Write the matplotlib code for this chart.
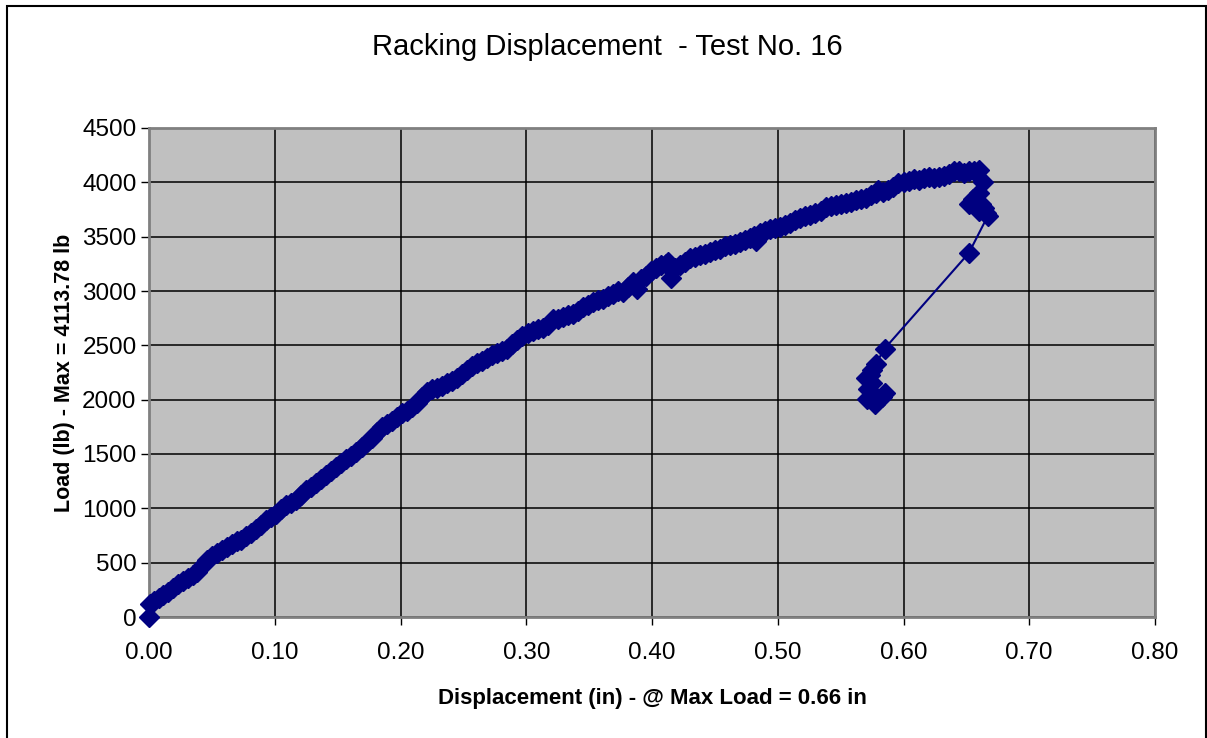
import matplotlib
matplotlib.use("Agg")
import matplotlib.pyplot as plt
from matplotlib.patches import Rectangle

plt.rcParams['font.family'] = ['Liberation Sans', 'DejaVu Sans']

# ---- data: displacement (in) vs load (lb) ----
disp = [0.000, 0.001, 0.004, 0.008, 0.011, 0.015, 0.019, 0.023, 0.027, 0.031,
        0.035, 0.038, 0.042, 0.046, 0.050, 0.054, 0.058, 0.062, 0.066, 0.070,
        0.073, 0.077, 0.081, 0.085, 0.089, 0.093, 0.097, 0.101, 0.105, 0.109,
        0.113, 0.117, 0.121, 0.125, 0.129, 0.133, 0.137, 0.141, 0.145, 0.149,
        0.153, 0.157, 0.161, 0.165, 0.169, 0.173, 0.177, 0.181, 0.185, 0.189,
        0.193, 0.197, 0.201, 0.205, 0.209, 0.213, 0.217, 0.221, 0.225, 0.229,
        0.233, 0.237, 0.241, 0.245, 0.249, 0.253, 0.257, 0.261, 0.265, 0.269,
        0.273, 0.277, 0.281, 0.285, 0.289, 0.293, 0.297, 0.301, 0.305, 0.309,
        0.313, 0.317, 0.321, 0.325, 0.329, 0.333, 0.337, 0.341, 0.345, 0.349,
        0.353, 0.357, 0.361, 0.365, 0.369, 0.373, 0.377, 0.381, 0.385, 0.388,
        0.391, 0.395, 0.399, 0.403, 0.407, 0.411, 0.413, 0.415, 0.418, 0.422,
        0.426, 0.430, 0.434, 0.438, 0.442, 0.446, 0.450, 0.454, 0.458, 0.462,
        0.466, 0.470, 0.474, 0.478, 0.481, 0.483, 0.486, 0.490, 0.494, 0.498,
        0.502, 0.506, 0.510, 0.514, 0.518, 0.522, 0.526, 0.530, 0.534, 0.538,
        0.542, 0.546, 0.550, 0.554, 0.558, 0.562, 0.566, 0.570, 0.574, 0.578,
        0.580, 0.584, 0.588, 0.592, 0.596, 0.600, 0.604, 0.608, 0.612, 0.616,
        0.620, 0.624, 0.628, 0.632, 0.636, 0.640, 0.644, 0.648, 0.652, 0.656,
        0.660, 0.663, 0.660, 0.656, 0.652, 0.655, 0.658, 0.662, 0.660, 0.664,
        0.666, 0.667, 0.652,
        0.585, 0.578, 0.575, 0.573, 0.570, 0.575, 0.572, 0.585, 0.583, 0.571,
        0.577, 0.580]
load = [0, 120, 150, 175, 200, 230, 265, 300, 335, 360,
        385, 415, 470, 520, 560, 590, 620, 645, 670, 695,
        710, 745, 775, 810, 850, 890, 920, 950, 990, 1030,
        1050, 1075, 1120, 1170, 1200, 1230, 1270, 1310, 1340, 1380,
        1420, 1450, 1480, 1520, 1560, 1610, 1650, 1700, 1750, 1780,
        1805, 1840, 1875, 1900, 1930, 1970, 2020, 2070, 2100, 2110,
        2130, 2150, 2170, 2200, 2240, 2270, 2310, 2340, 2360, 2380,
        2410, 2430, 2450, 2470, 2510, 2550, 2585, 2610, 2630, 2650,
        2660, 2690, 2740, 2740, 2760, 2780, 2790, 2820, 2850, 2870,
        2900, 2920, 2930, 2950, 2975, 3000, 2990, 3040, 3080, 3020,
        3110, 3140, 3180, 3210, 3240, 3250, 3270, 3120, 3210, 3240,
        3270, 3300, 3310, 3330, 3340, 3360, 3380, 3390, 3410, 3420,
        3430, 3450, 3470, 3490, 3510, 3460, 3530, 3550, 3570, 3580,
        3590, 3610, 3630, 3650, 3670, 3690, 3700, 3720, 3740, 3770,
        3780, 3790, 3800, 3810, 3820, 3840, 3850, 3860, 3880, 3900,
        3930, 3910, 3930, 3960, 3990, 4000, 4010, 4030, 4020, 4040,
        4050, 4040, 4050, 4060, 4080, 4100, 4100, 4090, 4100, 4100,
        4114, 4000, 3900, 3820, 3800, 3850, 3780, 3800, 3740, 3760,
        3720, 3690, 3350,
        2470, 2330, 2270, 2230, 2200, 2150, 2100, 2060, 2020, 2010,
        1960, 2000]

xticks = [0.0, 0.1, 0.2, 0.3, 0.4, 0.5, 0.6, 0.7, 0.8]
yticks = [0, 500, 1000, 1500, 2000, 2500, 3000, 3500, 4000, 4500]

fig = plt.figure(figsize=(12.07, 7.38), dpi=100)
ax = fig.add_axes([149/1207, 1-617/738, (1155-149)/1207, (617-128)/738])
ax.set_facecolor('#C0C0C0')

ax.plot(disp, load, color='#000080', lw=1.5, marker='D', ms=10.5,
        markeredgecolor='#000080', zorder=3, clip_on=False)

ax.set_xlim(0, 0.8)
ax.set_ylim(0, 4500)
ax.set_xticks(xticks)
ax.set_xticklabels(['%.2f' % v for v in xticks])
ax.set_yticks(yticks)
ax.grid(True, color='black', lw=1.1)
ax.set_axisbelow(True)
ax.tick_params(direction='out', length=6, width=1, labelsize=17.5)
ax.tick_params(axis='y', pad=3)
ax.tick_params(axis='x', pad=12)
for s in ax.spines.values():
    s.set_color('#808080'); s.set_linewidth(2)

ax.set_xlabel('Displacement (in) - @ Max Load = 0.66 in', fontsize=16,
              fontweight='bold', labelpad=17)
ax.set_ylabel('Load (lb) - Max = 4113.78 lb', fontsize=15.5,
              fontweight='bold', labelpad=5)
fig.text(607/1207, 1-47/738, 'Racking Displacement  - Test No. 16',
         ha='center', va='center', fontsize=21)

# outer chart frame
fig.add_artist(Rectangle((6.5/1207, -0.02), 1199/1207, 1.02-6.5/738,
                         transform=fig.transFigure, fill=False,
                         edgecolor='black', lw=1.5))

fig.savefig('out.png', dpi=100)
